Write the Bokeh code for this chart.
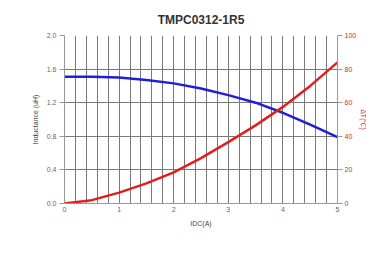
from bokeh.plotting import figure
from bokeh.models import Range1d, LinearAxis, SingleIntervalTicker, FixedTicker, CustomJSTickFormatter
from bokeh.embed import file_html
from bokeh.resources import INLINE

title_text = "TMPC0312-1R5"
idc = [0, 0.5, 1, 1.5, 2, 2.5, 3, 3.5, 4, 4.5, 5]
inductance = [1.51, 1.51, 1.50, 1.47, 1.43, 1.37, 1.29, 1.20, 1.08, 0.94, 0.79]
delta_t = [0, 2, 6.5, 12, 18.5, 27, 36.5, 46.5, 57.5, 70, 84]
left_ticks = [0.0, 0.4, 0.8, 1.2, 1.6, 2.0]
right_ticks = [0, 20, 40, 60, 80, 100]
x_ticks = [0, 1, 2, 3, 4, 5]

FONT = "Liberation Sans"
GRAY = "#666666"
BLUE = "#1f1fd6"
RED = "#e01e1e"

p = figure(frame_width=273, frame_height=168, output_backend="svg", toolbar_location=None,
           x_range=Range1d(0, 5), y_range=Range1d(0, 2.0),
           min_border_left=64, min_border_right=10, min_border_top=35, min_border_bottom=43)
p.extra_y_ranges = {"dt": Range1d(0, 100)}

p.title.text = title_text
p.title.align = "center"
p.title.offset = -5
p.title.text_font = FONT
p.title.text_font_size = "12px"
p.title.text_font_style = "bold"
p.title.text_color = "#333333"
p.title.standoff = 18

p.outline_line_color = None
p.background_fill_color = "white"
p.border_fill_color = "white"

# grids
p.xgrid.ticker = SingleIntervalTicker(interval=0.2)
p.xgrid.grid_line_color = "#7a7a7a"
p.xgrid.grid_line_width = 1
p.ygrid.ticker = FixedTicker(ticks=left_ticks)
p.ygrid.grid_line_color = "#7a7a7a"

# axes
p.xaxis.ticker = FixedTicker(ticks=x_ticks)
p.xaxis.axis_label = "IDC(A)"
p.yaxis.ticker = FixedTicker(ticks=left_ticks)
p.yaxis.formatter = CustomJSTickFormatter(code="return tick.toFixed(1);")
p.yaxis.axis_label = "Inductance (uH)"

ra = LinearAxis(y_range_name="dt", ticker=FixedTicker(ticks=right_ticks), axis_label="ΔT(℃)")
p.add_layout(ra, "right")

for ax in [p.xaxis[0], p.yaxis[0], ra]:
    ax.axis_line_color = "#999999"
    ax.major_tick_line_color = "#999999"
    ax.minor_tick_line_color = None
    ax.major_tick_in = 0
    ax.major_tick_out = 5
    ax.major_label_text_font = FONT
    ax.major_label_text_font_size = "7px"
    ax.major_label_text_color = GRAY
    ax.axis_label_text_font = FONT
    ax.axis_label_text_font_size = "7px"
    ax.axis_label_text_font_style = "normal"
    ax.axis_label_text_color = "#444444"
    ax.axis_label_standoff = 5
    ax.major_label_standoff = 3
p.xaxis.major_tick_out = 0
ra.major_label_text_color = RED
ra.axis_label_text_color = RED
ra.axis_label_standoff = 1
ra.major_label_standoff = 2

p.line(idc, inductance, line_color=BLUE, line_width=2.5)
p.line(idc, delta_t, line_color=RED, line_width=2.5, y_range_name="dt")

open("out.html", "w").write(file_html(p, INLINE))
